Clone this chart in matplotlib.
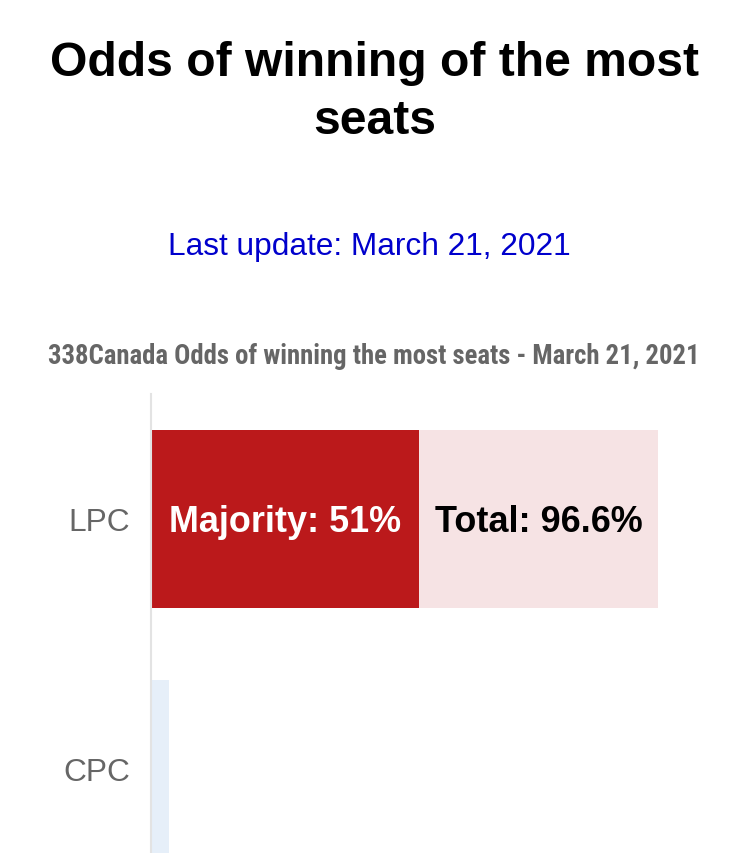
import matplotlib.pyplot as plt

parties = ["LPC", "CPC"]
majority = [51.0, 0.0]
total = [96.6, 3.4]

title = "Odds of winning of the most\nseats"
update = "Last update: March 21, 2021"
subtitle = "338Canada Odds of winning the most seats - March 21, 2021"

fig = plt.figure(figsize=(7.5, 8.54), dpi=100)
fig.text(0.5, 0.892, title, ha="center", va="center", fontsize=34.6, fontweight="bold",
         family="Liberation Sans", linespacing=1.38)
fig.text(0.493, 0.711, update, ha="center", va="center", fontsize=22.8, color="#0000CC",
         family="Liberation Sans")
sub = fig.text(0.498, 0.583, subtitle, ha="center", va="center", fontsize=21, color="#666666",
               fontweight="bold",
               family=["Roboto Condensed", "Liberation Sans Narrow", "Liberation Sans"])

# shrink the subtitle so it spans the same width as in the reference (~652 px)
r = fig.canvas.get_renderer()
w = sub.get_window_extent(renderer=r).width
if w > 652:
    sub.set_fontsize(21 * 652 / w)

ax = fig.add_axes([0.2013, 0.0, 0.70, 0.5375])
ypos = list(range(len(parties)))
colors_total = ["#F6E3E4", "#E6EFF9"]
ax.barh(ypos, total, height=0.71, color=colors_total, left=0)
ax.barh(ypos, majority, height=0.71, color="#BB191B", left=0)

ax.text(majority[0] / 2, 0.01, f"Majority: {majority[0]:g}%", ha="center", va="center",
        color="white", fontsize=25.9, fontweight="bold", family="Liberation Sans")
ax.text((majority[0] + total[0]) / 2, 0.01, f"Total: {total[0]:g}%", ha="center", va="center",
        color="black", fontsize=25.9, fontweight="bold", family="Liberation Sans")

ax.set_xlim(0, 100)
ax.set_ylim(1.336, -0.5)
ax.set_yticks(ypos)
ax.set_yticklabels(parties, fontsize=22.8, color="#666666", family="Liberation Sans")
ax.tick_params(axis="y", length=0, pad=15)
ax.set_xticks([])
for s in ["top", "right", "bottom"]:
    ax.spines[s].set_visible(False)
ax.spines["left"].set_color("#E3E3E3")
ax.spines["left"].set_linewidth(1.5)

fig.savefig("out.png", dpi=100)
